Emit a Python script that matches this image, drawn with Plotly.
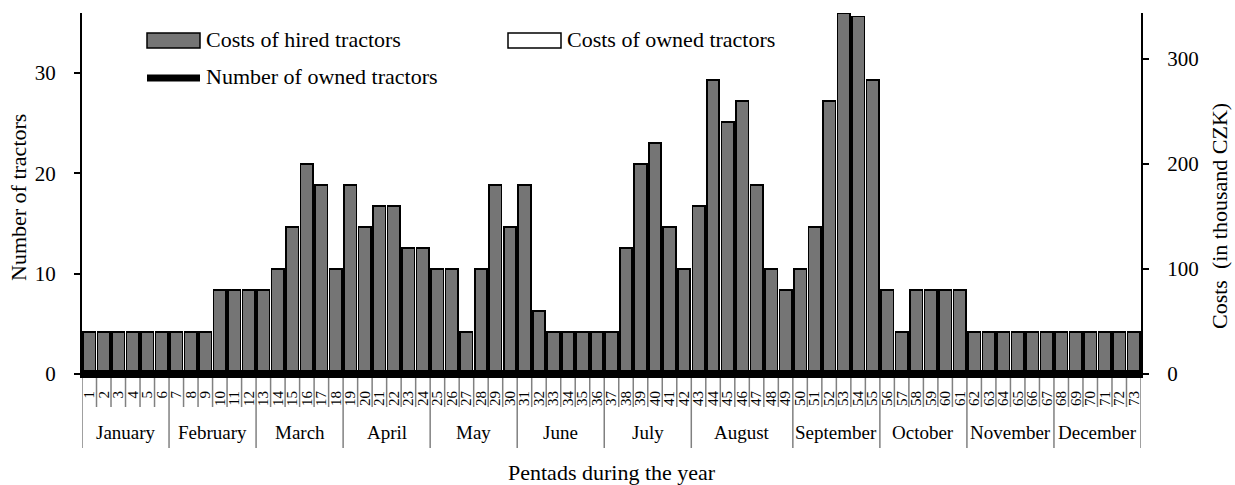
import plotly.graph_objects as go

# ---------------- data ----------------
pentads = list(range(1, 74))
pentad_labels = [str(p) for p in pentads]

hired_costs = [40, 40, 40, 40, 40, 40, 40, 40, 40,          # 1-9
               80, 80, 80, 80,                               # 10-13
               100, 140, 200, 180, 100,                      # 14-18
               180, 140, 160, 160, 120, 120,                 # 19-24
               100, 100, 40, 100, 180, 140,                  # 25-30
               180, 60, 40, 40, 40, 40,                      # 31-36
               40, 120, 200, 220, 140, 100,                  # 37-42
               160, 280, 240, 260, 180, 100, 80,             # 43-49
               100, 140, 260, 343, 340, 280,                 # 50-55
               80, 40, 80, 80, 80, 80,                       # 56-61
               40, 40, 40, 40, 40, 40,                       # 62-67
               40, 40, 40, 40, 40, 40]                       # 68-73
owned_costs = [0] * 73
owned_tractors = [0] * 73

months = ["January", "February", "March", "April", "May", "June", "July",
          "August", "September", "October", "November", "December"]
pentads_per_month = [6, 6, 6, 6, 6, 6, 6, 7, 6, 6, 6, 6]

left_ticks = [0, 10, 20, 30]
right_ticks = [0, 100, 200, 300]

# ---------------- layout geometry ----------------
W, H = 1235, 485
PL, PR, PT, PB = 82, 1141, 13, 378   # plot area in pixels
FONT = "Liberation Serif, Times New Roman, serif"


def px_x(px):
    return (px - PL) / (PR - PL)


def px_y(py):
    return (PB - py) / (PB - PT)


fig = go.Figure()

# costs on the (right-side) primary y axis
fig.add_trace(go.Bar(
    x=pentads, y=hired_costs, yaxis="y", name="Costs of hired tractors",
    marker=dict(color="#757575", line=dict(color="black", width=1.6)),
    showlegend=False,
))
fig.add_trace(go.Bar(
    x=pentads, y=owned_costs, yaxis="y", name="Costs of owned tractors",
    marker=dict(color="white", line=dict(color="black", width=1.6)),
    showlegend=False,
))

# number of owned tractors (left axis), step line across each pentad
edges = [p - 0.5 for p in pentads] + [pentads[-1] + 0.5]
step_vals = owned_tractors + [owned_tractors[-1]]
fig.add_trace(go.Scatter(
    x=edges, y=step_vals, yaxis="y2", mode="lines", line_shape="hv",
    line=dict(color="black", width=8), name="Number of owned tractors",
    showlegend=False,
))

left_min, left_max = -0.4, 35.96
right_min, right_max = -3.8, 343.5

shapes = []
annotations = []

# pentad separators (short) and month separators (long)
month_starts = []
s = 1
for n in pentads_per_month:
    month_starts.append(s)
    s += n
for b in range(len(pentads) + 1):
    xb = b + 0.5
    is_month = (b + 1) in month_starts or b == len(pentads)
    shapes.append(dict(
        type="line", xref="x", yref="paper",
        x0=xb, x1=xb, y0=px_y(376.5), y1=px_y(448 if is_month else 407),
        line=dict(color="#808080", width=1.5), layer="below",
    ))

# month labels
for m, st, n in zip(months, month_starts, pentads_per_month):
    annotations.append(dict(
        x=st + (n - 1) / 2, xref="x", y=px_y(432), yref="paper",
        text=m, showarrow=False, font=dict(family=FONT, size=19, color="black"),
        xanchor="center", yanchor="middle",
    ))

# axis titles
annotations.append(dict(
    x=px_x(18), xref="paper", y=px_y(198), yref="paper", text="Number of tractors",
    textangle=-90, showarrow=False, font=dict(family=FONT, size=22, color="black"),
    xanchor="center", yanchor="middle",
))
annotations.append(dict(
    x=px_x(1219), xref="paper", y=px_y(216), yref="paper",
    text="Costs\u00a0 (in thousand CZK)",
    textangle=-90, showarrow=False, font=dict(family=FONT, size=22, color="black"),
    xanchor="center", yanchor="middle",
))
annotations.append(dict(
    x=0.5, xref="paper", y=px_y(472), yref="paper", text="Pentads during the year",
    showarrow=False, font=dict(family=FONT, size=22, color="black"),
    xanchor="center", yanchor="middle",
))

# manual legend
shapes.append(dict(type="rect", xref="paper", yref="paper",
                   x0=px_x(147), x1=px_x(200), y0=px_y(48), y1=px_y(33),
                   fillcolor="#757575", line=dict(color="black", width=1.5)))
shapes.append(dict(type="rect", xref="paper", yref="paper",
                   x0=px_x(508), x1=px_x(561), y0=px_y(48), y1=px_y(33),
                   fillcolor="white", line=dict(color="black", width=1.5)))
shapes.append(dict(type="line", xref="paper", yref="paper",
                   x0=px_x(147), x1=px_x(200), y0=px_y(78), y1=px_y(78),
                   line=dict(color="black", width=7)))
for tx, px0, py0 in [("Costs of hired tractors", 204, 39),
                     ("Costs of owned tractors", 565, 39),
                     ("Number of owned tractors", 204, 77)]:
    annotations.append(dict(
        x=px_x(px0), xref="paper", y=px_y(py0), yref="paper", text=tx,
        showarrow=False, font=dict(family=FONT, size=22, color="black"),
        xanchor="left", yanchor="middle",
    ))

fig.update_layout(
    width=W, height=H,
    margin=dict(l=PL, r=W - PR, t=PT, b=H - PB, pad=0),
    paper_bgcolor="white", plot_bgcolor="white",
    barmode="stack", bargap=0.14,
    font=dict(family=FONT, color="black"),
    showlegend=False,
    xaxis=dict(
        range=[0.5, 73.5], tickmode="array", tickvals=pentads, ticktext=pentad_labels,
        tickangle=-90, tickfont=dict(family=FONT, size=15, color="black"),
        showline=False, showgrid=False, zeroline=False, ticks="",
        ticklabelstandoff=9,
    ),
    yaxis=dict(
        range=[right_min, right_max], side="right",
        tickmode="array", tickvals=right_ticks,
        showline=True, linecolor="black", linewidth=2, ticks="outside", ticklen=6,
        tickwidth=2, tickcolor="black", showgrid=False, zeroline=False,
        tickfont=dict(family=FONT, size=21, color="black"), ticklabelstandoff=14,
    ),
    yaxis2=dict(
        range=[left_min, left_max], overlaying="y", side="left",
        tickmode="array", tickvals=left_ticks,
        showline=True, linecolor="black", linewidth=2, ticks="outside", ticklen=6,
        tickwidth=2, tickcolor="black", showgrid=False, zeroline=False,
        tickfont=dict(family=FONT, size=21, color="black"), ticklabelstandoff=14,
    ),
    shapes=shapes,
    annotations=annotations,
)

fig.write_html("out.html", post_script="document.body.style.margin='0';",
               config={"displayModeBar": False})
